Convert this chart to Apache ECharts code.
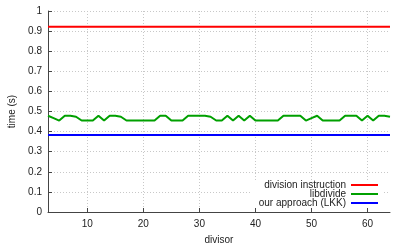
<!DOCTYPE html>
<html>
<head>
<meta charset="utf-8">
<script src="https://cdn.jsdelivr.net/npm/echarts@6/dist/echarts.min.js"></script>
<style>html,body{margin:0;padding:0;background:#fff;}#c{width:407px;height:244px;}</style>
</head>
<body>
<div id="c"></div>
<script>
const divisors = [3,4,5,6,7,8,9,10,11,12,13,14,15,16,17,18,19,20,21,22,23,24,25,26,27,28,29,30,31,32,33,34,35,36,37,38,39,40,41,42,43,44,45,46,47,48,49,50,51,52,53,54,55,56,57,58,59,60,61,62,63,64];
const divisionInstruction = [0.922,0.922,0.922,0.922,0.922,0.922,0.922,0.922,0.922,0.922,0.922,0.922,0.922,0.922,0.922,0.922,0.922,0.922,0.922,0.922,0.922,0.922,0.922,0.922,0.922,0.922,0.922,0.922,0.922,0.922,0.922,0.922,0.922,0.922,0.922,0.922,0.922,0.922,0.922,0.922,0.922,0.922,0.922,0.922,0.922,0.922,0.922,0.922,0.922,0.922,0.922,0.922,0.922,0.922,0.922,0.922,0.922,0.922,0.922,0.922,0.922,0.922];
const libdivide = [0.479,0.467,0.455,0.479,0.479,0.474,0.455,0.455,0.455,0.479,0.455,0.479,0.479,0.474,0.455,0.455,0.455,0.455,0.455,0.455,0.479,0.479,0.455,0.455,0.455,0.479,0.479,0.479,0.479,0.474,0.455,0.455,0.479,0.455,0.479,0.455,0.479,0.455,0.455,0.455,0.455,0.455,0.479,0.479,0.479,0.479,0.455,0.467,0.479,0.455,0.455,0.455,0.455,0.479,0.479,0.479,0.455,0.479,0.455,0.479,0.479,0.474];
const ourApproach = [0.383,0.383,0.383,0.383,0.383,0.383,0.383,0.383,0.383,0.383,0.383,0.383,0.383,0.383,0.383,0.383,0.383,0.383,0.383,0.383,0.383,0.383,0.383,0.383,0.383,0.383,0.383,0.383,0.383,0.383,0.383,0.383,0.383,0.383,0.383,0.383,0.383,0.383,0.383,0.383,0.383,0.383,0.383,0.383,0.383,0.383,0.383,0.383,0.383,0.383,0.383,0.383,0.383,0.383,0.383,0.383,0.383,0.383,0.383,0.383,0.383,0.383];
const xTicks = [10,20,30,40,50,60];
const seriesNames = ['division instruction','libdivide','our approach (LKK)'];
const seriesColors = ['#ff0000','#00a000','#0000ff'];

const font = 'Liberation Sans, Arial, sans-serif';
const pairs = (ys) => divisors.map((d, i) => [d, ys[i]]);
const allData = [divisionInstruction, libdivide, ourApproach];

const chart = echarts.init(document.getElementById('c'), null, {renderer: 'canvas'});
chart.setOption({
  animation: false,
  backgroundColor: '#fff',
  textStyle: {fontFamily: font},
  grid: {left: 48, right: 17, top: 11, bottom: 32, containLabel: false, outerBoundsMode: 'none'},
  graphic: [{type: 'rect', left: 252, top: 180, shape: {width: 130, height: 28}, style: {fill: '#fff'}, z: 3}],
  xAxis: {
    type: 'value', min: 3, max: 64,
    name: 'divisor', nameLocation: 'middle', nameGap: 23,
    nameTextStyle: {fontSize: 10, color: '#222', fontFamily: font},
    axisLine: {show: true, lineStyle: {color: '#444', width: 1}},
    axisTick: {show: true, inside: true, length: 4, customValues: xTicks, lineStyle: {color: '#444'}},
    axisLabel: {customValues: xTicks, fontSize: 10, color: '#222', margin: 7, fontFamily: font},
    splitLine: {show: true, lineStyle: {color: '#c8c8c8', type: [1, 2], width: 1}}
  },
  yAxis: {
    type: 'value', min: 0, max: 1, interval: 0.1,
    name: 'time (s)', nameLocation: 'middle', nameGap: 31, nameRotate: 90,
    nameTextStyle: {fontSize: 10, color: '#222', fontFamily: font},
    axisLine: {show: true, lineStyle: {color: '#444', width: 1}},
    axisTick: {show: true, inside: true, length: 4, lineStyle: {color: '#444'}},
    axisLabel: {fontSize: 10, color: '#222', margin: 6, fontFamily: font,
      formatter: (v) => String(Math.round(v * 10) / 10)},
    splitLine: {show: true, lineStyle: {color: '#c8c8c8', type: [1, 2], width: 1}}
  },
  legend: seriesNames.map((n, i) => ({
    data: [{name: n, icon: 'rect'}], orient: 'vertical', align: 'right', right: 29, top: 180 + i * 9,
    padding: 0, itemWidth: 27, itemHeight: 2, z: 5,
    textStyle: {fontSize: 10, color: '#222', fontFamily: font}
  })),
  series: seriesNames.map((n, i) => ({
    name: n, type: 'line', data: pairs(allData[i]),
    showSymbol: false, symbol: 'none',
    lineStyle: {color: seriesColors[i], width: 2},
    itemStyle: {color: seriesColors[i]}
  }))
});
</script>
</body>
</html>
